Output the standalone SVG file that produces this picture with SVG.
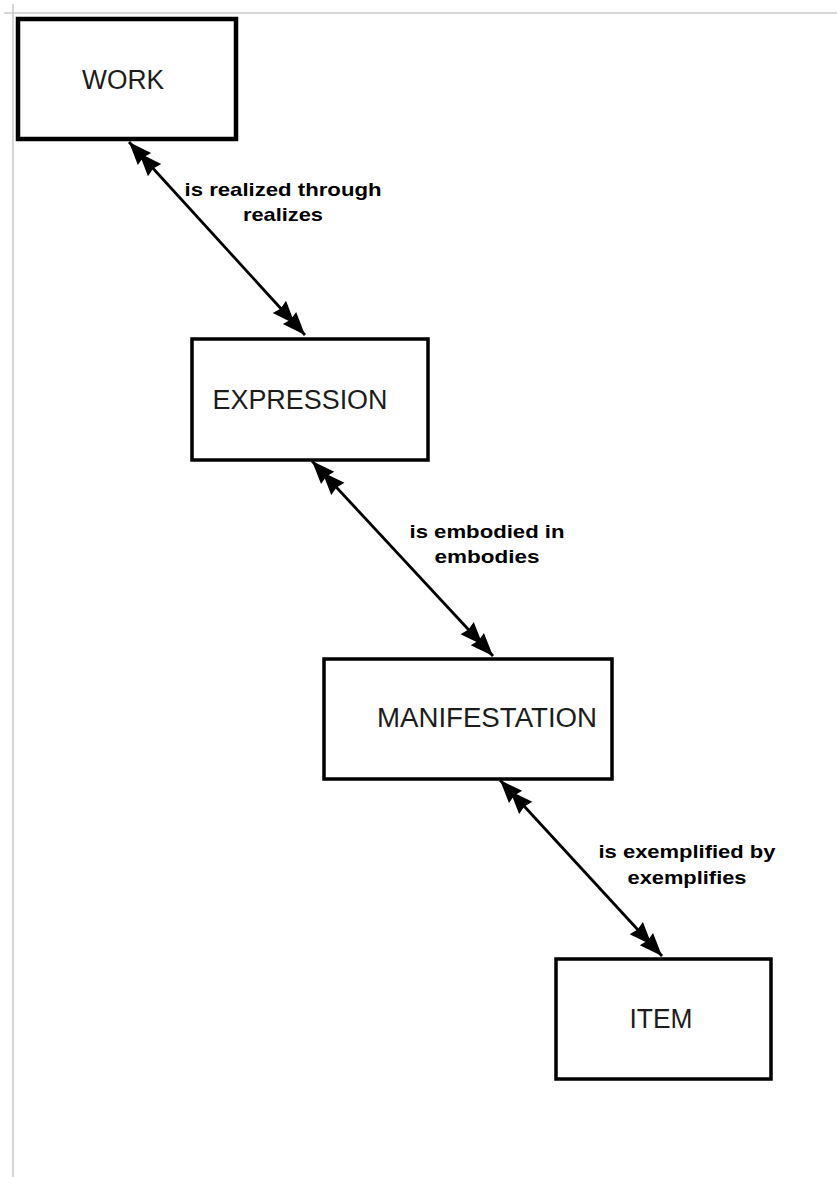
<svg xmlns="http://www.w3.org/2000/svg" width="837" height="1177" viewBox="0 0 837 1177">
<style>
.box{fill:#fff;stroke:#000;stroke-width:3.5}
.name{font-family:"Liberation Sans",Arial,sans-serif;font-size:27px;fill:#1c1c1c;text-anchor:middle}
.lbl{font-family:"Liberation Sans",Arial,sans-serif;font-size:19px;font-weight:bold;fill:#000;text-anchor:middle}
.conn{stroke:#000;stroke-width:2.8;fill:none;marker-start:url(#dbl);marker-end:url(#dbl)}
.page{stroke:#c9c9c9;stroke-width:1.5}
</style>
<defs>
<marker id="dbl" markerUnits="userSpaceOnUse" viewBox="-44 -12 48 24" refX="0" refY="0" markerWidth="48" markerHeight="24" orient="auto-start-reverse" overflow="visible">
<path d="M0,0 L-23,-9 L-21,0 L-23,9 Z M-15,0 L-38,-9 L-36,0 L-38,9 Z" fill="#000"/>
</marker>
</defs>
<rect width="837" height="1177" fill="#fff"/>
<g id="page-frame">
<line class="page" x1="4" y1="13" x2="837" y2="13"/>
<line class="page" x1="13" y1="4" x2="13" y2="1177"/>
</g>
<g id="connectors">
<path class="conn" d="M129,142 L305,335"/>
<path class="conn" d="M312,461 L493,656"/>
<path class="conn" d="M500,780 L662,956"/>
</g>
<g id="labels">
<text class="lbl" x="283" y="196" textLength="197" lengthAdjust="spacingAndGlyphs">is realized through</text>
<text class="lbl" x="283" y="221" textLength="80" lengthAdjust="spacingAndGlyphs">realizes</text>
<text class="lbl" x="487" y="538" textLength="155" lengthAdjust="spacingAndGlyphs">is embodied in</text>
<text class="lbl" x="487" y="563" textLength="105" lengthAdjust="spacingAndGlyphs">embodies</text>
<text class="lbl" x="687" y="858" textLength="177" lengthAdjust="spacingAndGlyphs">is exemplified by</text>
<text class="lbl" x="687" y="884" textLength="119" lengthAdjust="spacingAndGlyphs">exemplifies</text>
</g>
<g id="work">
<rect class="box" x="18" y="19" width="218" height="120" style="stroke-width:4.5"/>
<text class="name" x="123" y="89" textLength="82" lengthAdjust="spacingAndGlyphs">WORK</text>
</g>
<g id="expression">
<rect class="box" x="192" y="339" width="236" height="121"/>
<text class="name" x="300" y="409" textLength="175" lengthAdjust="spacingAndGlyphs">EXPRESSION</text>
</g>
<g id="manifestation">
<rect class="box" x="324" y="659" width="288" height="120"/>
<text class="name" x="487" y="727" textLength="220" lengthAdjust="spacingAndGlyphs">MANIFESTATION</text>
</g>
<g id="item">
<rect class="box" x="556" y="959" width="215" height="120"/>
<text class="name" x="661" y="1028" textLength="63" lengthAdjust="spacingAndGlyphs">ITEM</text>
</g>
</svg>
